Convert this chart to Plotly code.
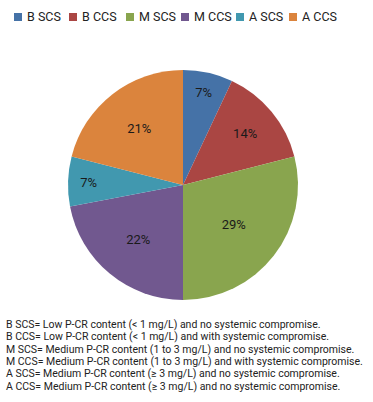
import plotly.graph_objects as go

labels = ["B SCS", "B CCS", "M SCS", "M CCS", "A SCS", "A CCS"]
values = [7, 14, 29, 22, 7, 21]
colors = ["#4572A7", "#AA4643", "#89A54E", "#71588F", "#4198AF", "#DB843D"]
notes = [
    "B SCS= Low P-CR content (< 1 mg/L) and no systemic compromise.",
    "B CCS= Low P-CR content (< 1 mg/L) and with systemic compromise.",
    "M SCS= Medium P-CR content (1 to 3 mg/L) and no systemic compromise.",
    "M CCS= Medium P-CR content (1 to 3 mg/L) and with systemic compromise.",
    "A SCS= Medium P-CR content (\u2265 3 mg/L) and no systemic compromise.",
    "A CCS= Medium P-CR content (\u2265 3 mg/L) and no systemic compromise.",
]

W, H = 373, 402
FONT = "Roboto"

fig = go.Figure(go.Pie(
    labels=labels, values=values, sort=False, direction="clockwise", rotation=0,
    marker=dict(colors=colors, line=dict(width=0)),
    texttemplate="%{value}%", textposition="inside", insidetextorientation="horizontal",
    textfont=dict(family=FONT, size=13, color="#1a1a1a"),
    domain=dict(x=[(183 - 115) / W, (183 + 115) / W], y=[1 - 301 / H, 1 - 69 / H]),
    showlegend=False, hoverinfo="label+percent",
))

shapes = []
annotations = []
# legend built from labels and colors
leg_x = [18, 73, 130, 185, 240, 293]
leg_y = 17
for lab, col, x in zip(labels, colors, leg_x):
    shapes.append(dict(type="rect", xref="paper", yref="paper",
                       x0=(x - 4) / W, x1=(x + 4) / W,
                       y0=1 - (leg_y + 4) / H, y1=1 - (leg_y - 4) / H,
                       fillcolor=col, line=dict(width=0)))
    annotations.append(dict(text=lab, xref="paper", yref="paper",
                            x=(x + 7) / W, y=1 - leg_y / H, xanchor="left", yanchor="middle",
                            showarrow=False, font=dict(family=FONT, size=12.5, color="#222")))

note_y = [324, 336, 349, 361, 373, 386]
for t, y in zip(notes, note_y):
    annotations.append(dict(text=t, xref="paper", yref="paper",
                            x=4 / W, y=1 - y / H, xanchor="left", yanchor="middle",
                            showarrow=False, font=dict(family=FONT, size=10.5, color="#222")))

fig.update_layout(
    width=W, height=H, margin=dict(l=0, r=0, t=0, b=0),
    paper_bgcolor="white", plot_bgcolor="white",
    shapes=shapes, annotations=annotations,
)
fig.write_html("out.html", config={"displayModeBar": False},
               post_script="document.body.style.margin='0';")
